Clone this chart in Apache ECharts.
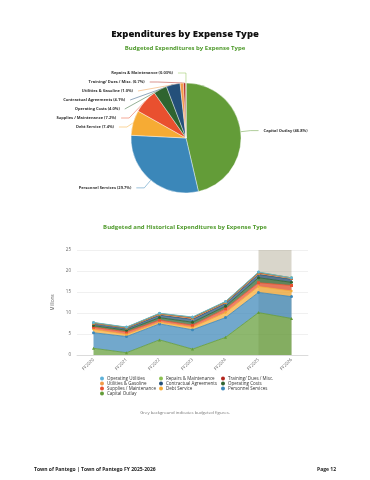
<!DOCTYPE html>
<html><head><meta charset="utf-8">
<script src="https://cdn.jsdelivr.net/npm/echarts@6/dist/echarts.min.js"></script>
<style>html,body{margin:0;padding:0;background:#fff}#c{width:370px;height:480px}</style>
</head><body><div id="c"></div>
<script>
// ---- Pie (budget) data ----
const pieNames = ['Capital Outlay','Personnel Services','Debt Service','Supplies / Maintenance','Operating Costs','Contractual Agreements','Utilities & Gasoline','Training/ Dues / Misc.','Repairs & Maintenance'];
const piePercents = [46.8, 29.7, 7.4, 7.2, 4.0, 4.1, 1.0, 0.7, 0.03];

// ---- Historical stacked data (millions) ----
const years = ['FY2020','FY2021','FY2022','FY2023','FY2024','FY2025','FY2026'];
const capitalOutlay      = [1.6, 0.55, 3.6, 1.4, 4.2, 10.1, 8.7];
const personnelServices  = [3.7, 3.85, 3.8, 4.6, 4.7, 4.8, 5.2];
const debtService        = [0.8, 0.5, 0.4, 0.6, 1.2, 1.4, 1.35];
const suppliesMaint      = [0.5, 0.6, 0.5, 0.5, 0.9, 0.9, 1.3];
const operatingCosts     = [0.4, 0.4, 0.6, 0.7, 0.6, 1.2, 0.75];
const contractual        = [0.4, 0.4, 0.6, 0.7, 0.7, 0.8, 0.75];
const utilitiesGas       = [0.15, 0.15, 0.2, 0.25, 0.2, 0.2, 0.18];
const trainingDues       = [0.1, 0.1, 0.15, 0.15, 0.15, 0.2, 0.13];
const repairsMaint       = [0.05, 0.05, 0.05, 0.1, 0.05, 0.1, 0.01];
const operatingUtilities = [0.05, 0.05, 0.05, 0.05, 0.05, 0.05, 0];
const yTicks = [0, 5, 10, 15, 20, 25];

const colors = {
  'Capital Outlay':'#639c38',
  'Personnel Services':'#3b87b9',
  'Debt Service':'#f6ab34',
  'Supplies / Maintenance':'#e9502f',
  'Operating Costs':'#2f6430',
  'Contractual Agreements':'#24507a',
  'Utilities & Gasoline':'#f19a48',
  'Training/ Dues / Misc.':'#b3261e',
  'Repairs & Maintenance':'#8cc152',
  'Operating Utilities':'#5fb2d9'
};
const stack = [
  ['Capital Outlay', capitalOutlay, 'triangle'],
  ['Personnel Services', personnelServices, 'circle'],
  ['Debt Service', debtService, 'diamond'],
  ['Supplies / Maintenance', suppliesMaint, 'rect'],
  ['Operating Costs', operatingCosts, 'circle'],
  ['Contractual Agreements', contractual, 'diamond'],
  ['Utilities & Gasoline', utilitiesGas, 'rect'],
  ['Training/ Dues / Misc.', trainingDues, 'triangle'],
  ['Repairs & Maintenance', repairsMaint, 'circle'],
  ['Operating Utilities', operatingUtilities, 'circle']
];
const FF = "'Open Sans', sans-serif";
const chart = echarts.init(document.getElementById('c'), null, {renderer:'canvas'});

const lineSeries = stack.map((s, i) => ({
  type:'line', name:s[0], data:s[1], stack:'total', xAxisIndex:0, yAxisIndex:0,
  symbol:s[2], symbolSize:3, showSymbol:true,
  lineStyle:{width:0.8, color:colors[s[0]]},
  itemStyle:{color:colors[s[0]]},
  areaStyle:{color:colors[s[0]], opacity:0.72},
  z: 2,
  markArea: i === stack.length-1 ? {
    silent:true,
    itemStyle:{color:'rgba(150,140,110,0.36)'},
    data:[[{xAxis:'FY2025', yAxis:0},{xAxis:'FY2026', yAxis:25}]]
  } : undefined
}));

const legendCommon = {
  orient:'vertical', icon:'circle', itemWidth:4, itemHeight:4, itemGap:0, padding:0,
  textStyle:{fontSize:4.5, lineHeight:5, fontFamily:FF, color:'#333', padding:[0,0,0,-2]},
  selectedMode:false
};

const fmtPct = v => (v < 0.1 ? v.toFixed(2) : v.toFixed(1)) + '%';

chart.setOption({
  backgroundColor:'#fff',
  animation:false,
  title:[
    {text:'Expenditures by Expense Type', left:'center', top:24,
     textStyle:{fontSize:9.5, fontWeight:800, fontFamily:FF, color:'#111'}},
    {text:'Budgeted Expenditures by Expense Type', left:'center', top:40,
     textStyle:{fontSize:6, fontWeight:'bold', fontFamily:FF, color:'#4f9a2c'}},
    {text:'Budgeted and Historical Expenditures by Expense Type', left:'center', top:219,
     textStyle:{fontSize:6, fontWeight:'bold', fontFamily:FF, color:'#4f9a2c'}},
    {text:'Grey background indicates budgeted figures.', left:'center', top:406,
     textStyle:{fontSize:4.3, fontWeight:'normal', fontFamily:FF, color:'#777'}},
    {text:'Town of Pantego | Town of Pantego FY 2025-2026', left:29, top:462,
     textStyle:{fontSize:5, fontWeight:'bold', fontFamily:FF, color:'#222'}},
    {text:'Page 12', right:29, top:462,
     textStyle:{fontSize:5, fontWeight:'bold', fontFamily:FF, color:'#222'}}
  ],
  legend:[
    Object.assign({left:100, top:376, data:['Operating Utilities','Utilities & Gasoline','Supplies / Maintenance','Capital Outlay']}, legendCommon),
    Object.assign({left:159, top:376, data:['Repairs & Maintenance','Contractual Agreements','Debt Service']}, legendCommon),
    Object.assign({left:221, top:376, data:['Training/ Dues / Misc.','Operating Costs','Personnel Services']}, legendCommon)
  ],
  grid:{left:77, right:62, top:250, bottom:125, containLabel:false},
  xAxis:{type:'category', data:years, boundaryGap:true,
    axisLine:{lineStyle:{color:'#ccc', width:0.6}}, axisTick:{show:false},
    axisLabel:{rotate:45, fontSize:4.5, color:'#666', fontFamily:FF, margin:4}},
  yAxis:{type:'value', min:0, max:25, interval:5, name:'Millions', nameLocation:'middle', nameGap:16,
    nameTextStyle:{fontSize:4.5, color:'#666', fontFamily:FF},
    axisLabel:{fontSize:4.5, color:'#666', fontFamily:FF, margin:6,
      formatter:v => yTicks.includes(v) ? String(v) : ''},
    splitLine:{lineStyle:{color:'#e6e6e6', width:0.6}}},
  series:[
    {type:'pie', center:[186,138], radius:55, startAngle:90, clockwise:true,
     data:pieNames.map((n,i)=>({name:n, value:piePercents[i], itemStyle:{color:colors[n]}})),
     itemStyle:{borderColor:'#fff', borderWidth:0.4},
     label:{show:true, fontSize:4, lineHeight:7, fontWeight:'bold', fontFamily:FF, color:'#333',
       formatter:p => p.name + ' (' + fmtPct(p.value) + ')'},
     labelLine:{show:true, length:10, length2:8, lineStyle:{width:0.5}}
    },
    ...lineSeries
  ]
});
</script></body></html>
